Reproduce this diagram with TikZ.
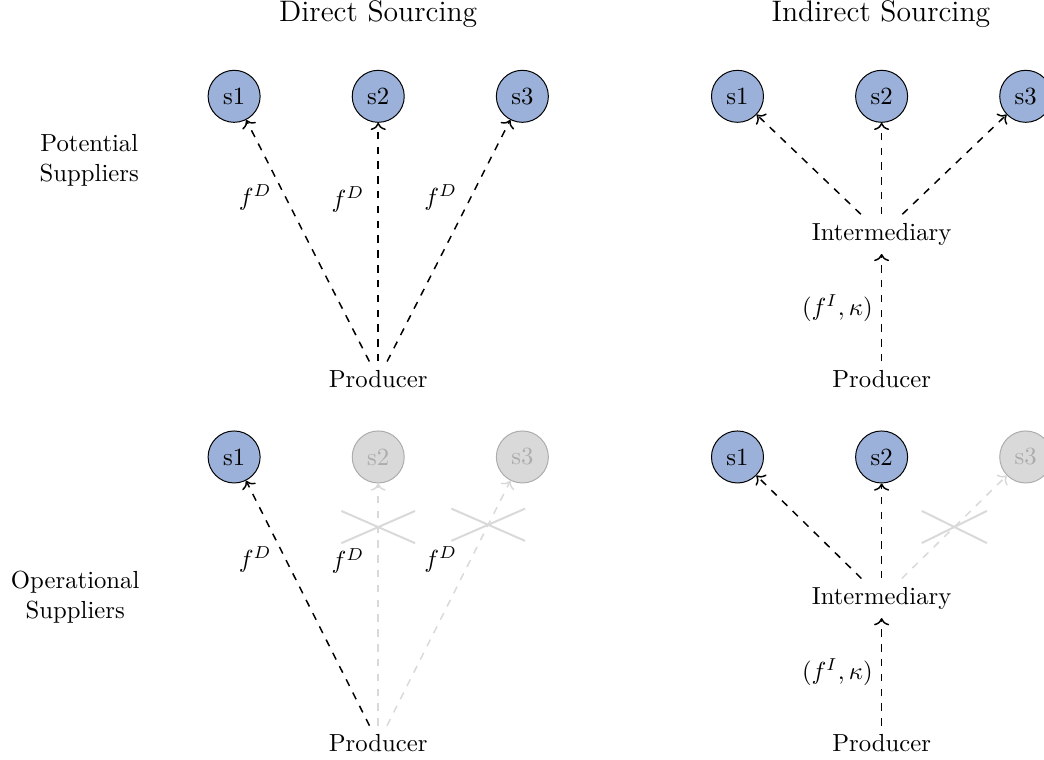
\documentclass[tikz,border=0pt]{standalone}
\usepackage{amsmath,amssymb}
\usepackage{tikz}
\usetikzlibrary{arrows.meta,positioning,shapes.misc}
\definecolor{suppblue}{RGB}{155,177,217}

\begin{document}
\begin{tikzpicture}[
  supp/.style={draw, circle, fill=suppblue, minimum size=7.4mm, inner sep=0pt},
  offsupp/.style={draw=gray!65, circle, fill=gray!30, text=gray!65,
                  minimum size=7.4mm, inner sep=0pt},
  head/.style={font=\large},
  rowlbl/.style={align=center},
  arr/.style={->, dashed, semithick},
  offarr/.style={->, dashed, semithick, gray!30},
  cut/.style={draw=gray!30, solid, cross out, thick, minimum width=10.2mm,
              minimum height=4.3mm, inner sep=0pt},
]
\useasboundingbox (0,0) rectangle (14.85,-10.80);
% ---------------- headings -----------------
\node[head] (hdir) at (5.38,-0.20) {Direct Sourcing};
\node[head] (hind) at (12.53,-0.20) {Indirect Sourcing};
\node[rowlbl] (rpot) at (1.27,-2.28) {Potential\\Suppliers};
\node[rowlbl] (rop) at (1.07,-8.49) {Operational\\Suppliers};
% ---------------- direct, potential -----------------
\node[supp] (a1) at (3.33,-1.37) {s1};
\node[supp] (a2) at (5.38,-1.37) {s2};
\node[supp] (a3) at (7.43,-1.37) {s3};
\node (aprod) at (5.38,-5.39) {Producer};
\draw[arr] (aprod) -- node[pos=0.68, left=2pt] {$f^D$} (a1);
\draw[arr] (aprod) -- node[pos=0.68, left=2pt] {$f^D$} (a2);
\draw[arr] (aprod) -- node[pos=0.68, left=2pt] {$f^D$} (a3);
% ---------------- indirect, potential -----------------
\node[supp] (b1) at (10.49,-1.37) {s1};
\node[supp] (b2) at (12.54,-1.37) {s2};
\node[supp] (b3) at (14.59,-1.37) {s3};
\node (binter) at (12.54,-3.33) {Intermediary};
\node (bprod) at (12.54,-5.39) {Producer};
\draw[arr] (binter) -- (b1);
\draw[arr] (binter) -- (b2);
\draw[arr] (binter) -- (b3);
\draw[arr] (bprod) -- node[left] {$(f^I,\kappa)$} (binter);
% ---------------- direct, operational -----------------
\node[supp] (c1) at (3.33,-6.50) {s1};
\node[offsupp] (c2) at (5.38,-6.50) {s2};
\node[offsupp] (c3) at (7.43,-6.50) {s3};
\node (cprod) at (5.38,-10.57) {Producer};
\draw[arr] (cprod) -- node[pos=0.68, left=2pt] {$f^D$} (c1);
\draw[offarr] (cprod) -- node[pos=0.68, left=2pt, black] {$f^D$}
  node[cut, pos=0.82] (cx2) {} (c2);
\draw[offarr] (cprod) -- node[pos=0.68, left=2pt, black] {$f^D$}
  node[cut, pos=0.82] (cx3) {} (c3);
% ---------------- indirect, operational -----------------
\node[supp] (d1) at (10.49,-6.50) {s1};
\node[supp] (d2) at (12.54,-6.50) {s2};
\node[offsupp] (d3) at (14.59,-6.50) {s3};
\node (dinter) at (12.54,-8.51) {Intermediary};
\node (dprod) at (12.54,-10.57) {Producer};
\draw[arr] (dinter) -- (d1);
\draw[arr] (dinter) -- (d2);
\draw[offarr] (dinter) -- node[cut, minimum width=9mm, pos=0.5] (dx3) {} (d3);
\draw[arr] (dprod) -- node[left] {$(f^I,\kappa)$} (dinter);
\end{tikzpicture}
\end{document}
